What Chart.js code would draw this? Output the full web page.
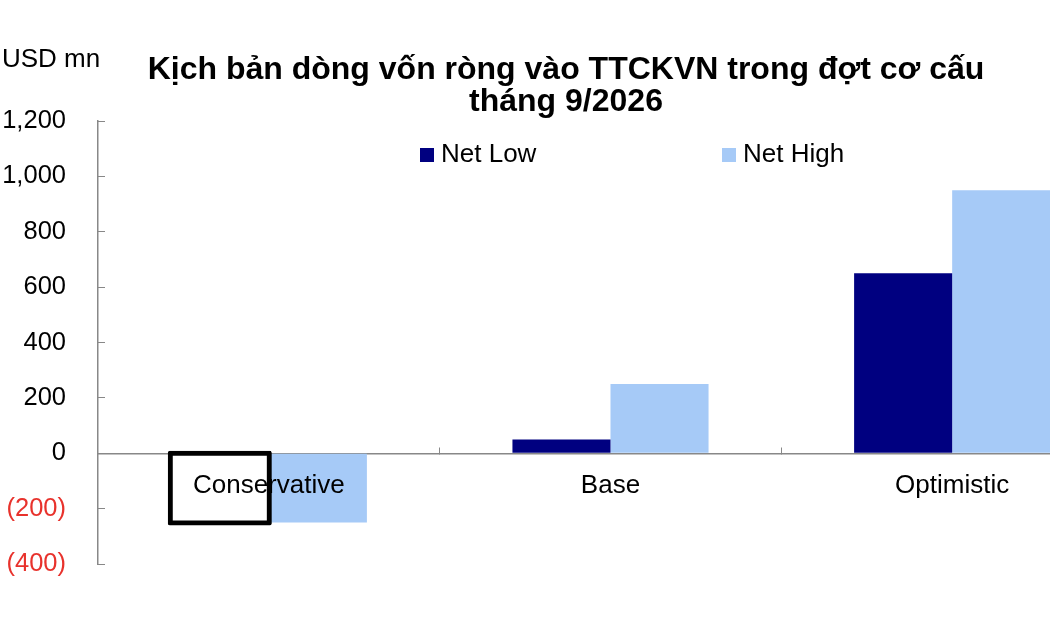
<!DOCTYPE html>
<html>
<head>
<meta charset="utf-8">
<script src="https://cdn.jsdelivr.net/npm/chart.js@4.4.1/dist/chart.umd.min.js"></script>
<style>
    html, body { margin: 0; padding: 0; background: #fff; overflow: hidden; }
    #wrap { width: 1132px; height: 630px; }
</style>
</head>
<body>
<div id="wrap"><canvas id="myChart" width="1132" height="630"></canvas></div>
<script>
/* ---------- DATA ---------- */
const titleLines = ['Kịch bản dòng vốn ròng vào TTCKVN trong đợt cơ cấu', 'tháng 9/2026'];
const unitLabel = 'USD mn';
const categories = ['Conservative', 'Base', 'Optimistic'];
const netLow = [-250, 50, 650];
const netHigh = [-250, 250, 950];
const seriesNames = ['Net Low', 'Net High'];

/* ---------- STYLE ---------- */
const NAVY = '#000080';
const LIGHT = '#A6CAF7';
const RED = '#E8322C';
const AXIS = '#888888';
const FONT = "'Liberation Sans', Arial, sans-serif";

/* ---------- TOP TEXTS + LEGEND ---------- */
const topTexts = {
    id: 'topTexts',
    afterDraw(chart) {
        const ctx = chart.ctx;
        ctx.save();
        ctx.fillStyle = '#000';
        ctx.font = '26px ' + FONT;
        ctx.textAlign = 'left';
        ctx.textBaseline = 'alphabetic';
        ctx.fillText(unitLabel, 2, 67);

        const colors = [NAVY, LIGHT];
        const xs = [420, 722];
        ctx.textBaseline = 'middle';
        chart.data.datasets.forEach((ds, i) => {
            ctx.fillStyle = colors[i];
            ctx.fillRect(xs[i], 148, 14, 14);
            ctx.fillStyle = '#000';
            ctx.fillText(ds.label, xs[i] + 21, 155);
        });
        ctx.restore();
    }
};

/* ---------- CHART ---------- */
const ctx = document.getElementById('myChart').getContext('2d');

new Chart(ctx, {
    type: 'bar',
    data: {
        labels: categories,
        datasets: [{
            label: seriesNames[0],
            data: netLow,
            // the conservative bar is shown as a white box with a thick black outline
            backgroundColor: c => c.dataIndex === 0 ? '#FFFFFF' : NAVY,
            borderColor: '#000',
            borderWidth: c => c.dataIndex === 0 ? 5 : 0,
            borderRadius: c => c.dataIndex === 0 ? 2 : 0,
            inflateAmount: c => c.dataIndex === 0 ? 3 : 'auto',
            borderSkipped: false
        }, {
            label: seriesNames[1],
            data: netHigh,
            backgroundColor: LIGHT,
            borderWidth: 0
        }]
    },
    options: {
        responsive: false,
        animation: false,
        devicePixelRatio: 1,
        layout: {
            padding: { left: 0, right: 0, top: 0, bottom: 66 }
        },
        datasets: {
            bar: {
                barPercentage: 1,
                categoryPercentage: 0.574
            }
        },
        plugins: {
            legend: { display: false },
            tooltip: { enabled: false },
            title: {
                display: true,
                text: titleLines,
                color: '#000',
                font: { family: FONT, size: 32, weight: 'bold', lineHeight: 1 },
                padding: { top: 54, bottom: 3 }
            }
        },
        scales: {
            x: {
                position: { y: 0 },
                grid: {
                    drawOnChartArea: false,
                    tickLength: -7,
                    color: AXIS
                },
                border: { color: AXIS, width: 1.5 },
                ticks: {
                    z: 1,
                    color: '#000',
                    padding: 24,
                    font: { family: FONT, size: 26 }
                }
            },
            y: {
                min: -400,
                max: 1200,
                afterFit: scale => { scale.width = 98; },
                grid: {
                    drawOnChartArea: false,
                    tickLength: -7,
                    color: AXIS
                },
                border: { color: AXIS, width: 1.5 },
                ticks: {
                    stepSize: 200,
                    padding: 39,
                    font: { family: FONT, size: 25.5 },
                    color: c => c.tick.value < 0 ? RED : '#000',
                    callback: v => v < 0
                        ? '(' + Math.abs(v).toLocaleString('en-US') + ')'
                        : v.toLocaleString('en-US')
                }
            },
            // empty spacer on the right so the plot runs past the visible edge
            y2: {
                position: 'right',
                grid: { display: false },
                border: { display: false },
                ticks: { display: false },
                afterFit: scale => { scale.width = 9; }
            }
        }
    },
    plugins: [topTexts]
});
</script>
</body>
</html>
